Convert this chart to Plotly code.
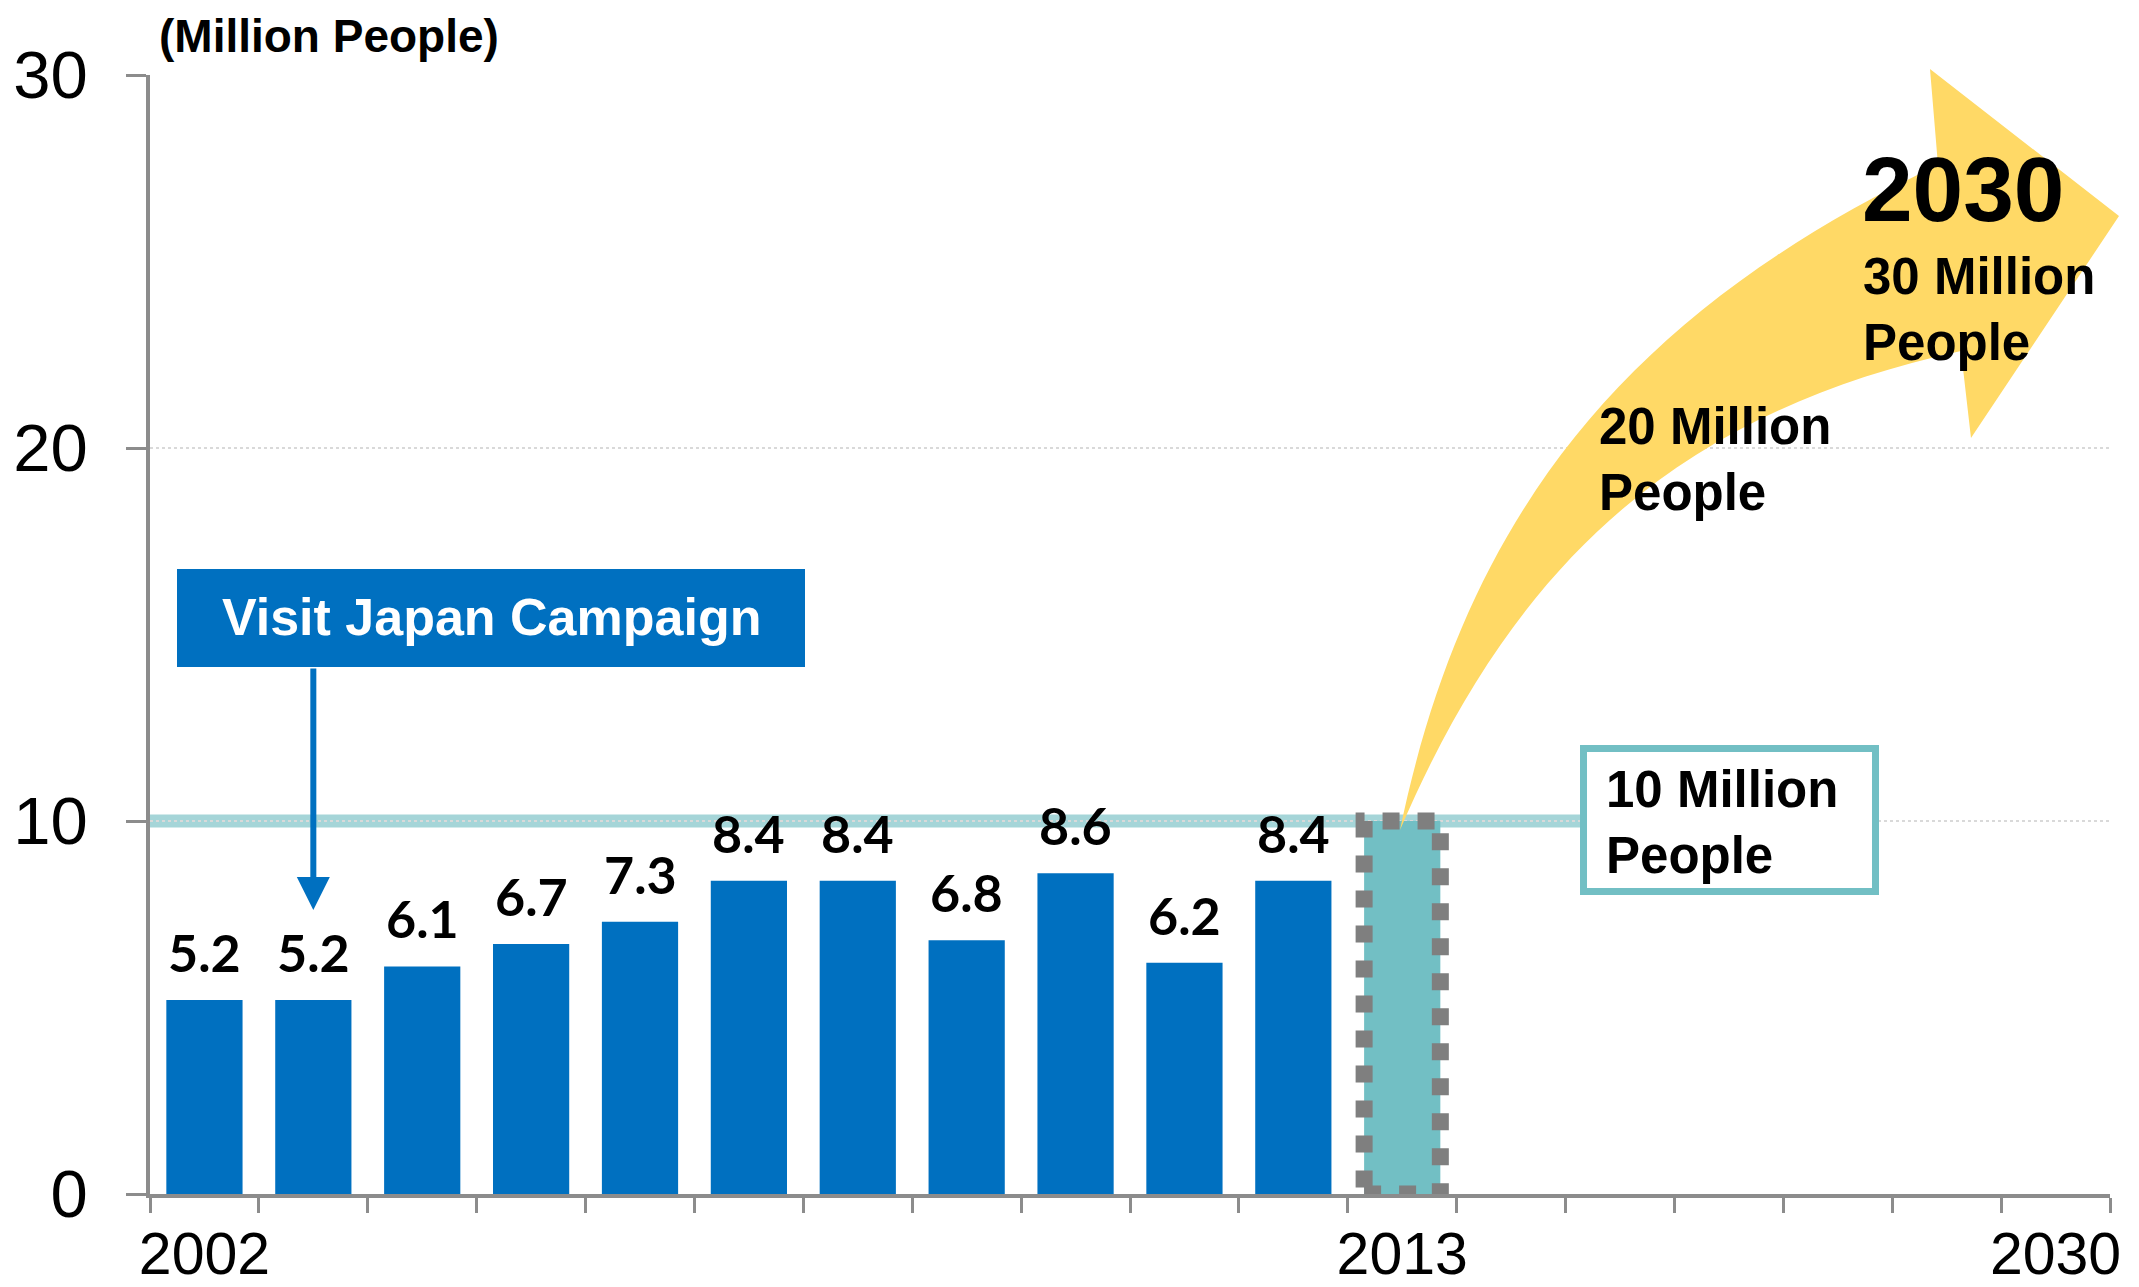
import plotly.graph_objects as go

# ---- data ----
years = ["2002", "2003", "2004", "2005", "2006", "2007", "2008", "2009", "2010", "2011", "2012"]
visitors = [5.2, 5.2, 6.1, 6.7, 7.3, 8.4, 8.4, 6.8, 8.6, 6.2, 8.4]   # million people
target_year = "2013"
target_value = 10
future_slots = ["2014", "2017", "2020", "2023", "2026", "2030"]
x_categories = years + [target_year] + future_slots
shown_years = ["2002", "2013", "2030"]
y_ticks = [0, 10, 20, 30]
campaign_year = "2003"

BLUE = "#0070C0"
TEAL = "#72BFC4"
YELLOW = "#FFD966"
GREY = "#8C8C8C"
ARIAL = "Liberation Sans, Arial, sans-serif"
CALIBRI = "Lato, Calibri, sans-serif"

W, H = 2139, 1287
OFF = 8  # page body margin
# plot area in page pixels (used to place the decorations)
L, R, T, B = 150, 2110, 75, 1194
def px(x):
    return (x - L) / (R - L)
def py(y):
    return (B - y) / (B - T)
def yval(y):
    return (B - y) / (B - T) * 30

fig = go.Figure()
fig.add_trace(go.Bar(x=years, y=visitors, marker=dict(color=BLUE, line=dict(width=0)), width=0.7))
fig.add_trace(go.Bar(x=[target_year], y=[target_value], marker=dict(color=TEAL, line=dict(width=0)), width=0.7))

# value labels
for yr, v in zip(years, visitors):
    fig.add_annotation(x=x_categories.index(yr), y=v, text=f"{v:.1f}", showarrow=False,
                       yanchor="bottom", yshift=15,
                       font=dict(family=CALIBRI, size=52, color="black", weight="bold"))

# curved yellow arrow: two cubic edges + straight head
def P(p):
    return f"{px(p[0]):.5f},{py(p[1]):.5f}"

def cubic(p0, c, p3, k=0.7):
    c1 = (p0[0] + k * (c[0] - p0[0]), p0[1] + k * (c[1] - p0[1]))
    c2 = (p3[0] + k * (c[0] - p3[0]), p3[1] + k * (c[1] - p3[1]))
    return f" C{P(c1)} {P(c2)} {P(p3)}"

tail = (1400, 830)
upper_end, upper_ctrl = (1938, 165), (1494, 377)
head = [(1930, 69), (2119, 216), (1971, 438)]
lower_start, lower_ctrl = (1961, 351), (1568, 437)

path = "M" + P(tail) + cubic(tail, upper_ctrl, upper_end)
for p in head:
    path += " L" + P(p)
path += " L" + P(lower_start) + cubic(lower_start, lower_ctrl, tail) + " Z"
fig.add_shape(type="path", path=path, xref="paper", yref="paper",
              fillcolor=YELLOW, line=dict(width=0), layer="above")

# 10 million line
fig.add_shape(type="line", xref="paper", yref="y", x0=0, x1=px(1580), y0=target_value, y1=target_value,
              line=dict(color="#A5D5D8", width=13), layer="below")

# dotted outline of the 2013 bar
idx = x_categories.index(target_year)
fig.add_shape(type="rect", xref="x", yref="y", x0=idx - 0.35, x1=idx + 0.35, y0=0, y1=target_value,
              line=dict(color="#7F7F7F", width=17, dash="17px,18px"), layer="above")

# 10 Million box
fig.add_shape(type="rect", xref="paper", yref="paper", x0=px(1583.5), x1=px(1875.5),
              y0=py(891.5), y1=py(748.5), line=dict(color=TEAL, width=7), fillcolor="white", layer="above")
fig.add_annotation(xref="paper", yref="paper", x=px(1604), y=py(759), xanchor="left", yanchor="top",
                   text="10 Million<br>People", align="left", showarrow=False,
                   font=dict(family=ARIAL, size=51, color="black", weight="bold"))

# Visit Japan Campaign box + arrow
fig.add_shape(type="rect", xref="paper", yref="paper", x0=px(177), x1=px(805), y0=py(667), y1=py(569),
              line=dict(width=0), fillcolor=BLUE, layer="above")
fig.add_annotation(xref="paper", yref="paper", x=px(491), y=py(617), xanchor="center", yanchor="middle",
                   text="Visit Japan Campaign", showarrow=False,
                   font=dict(family=ARIAL, size=52, color="white", weight="bold"))
fig.add_annotation(x=x_categories.index(campaign_year), y=yval(910), ax=0, ay=667 - 910,
                   text="", showarrow=True,
                   arrowhead=2, arrowsize=1.1, arrowwidth=6, arrowcolor=BLUE)

# goal texts
fig.add_annotation(xref="paper", yref="paper", x=px(1597), y=py(396), xanchor="left", yanchor="top",
                   text="20 Million<br>People", align="left", showarrow=False,
                   font=dict(family=ARIAL, size=51, color="black", weight="bold"))
fig.add_annotation(xref="paper", yref="paper", x=px(1860), y=py(137), xanchor="left", yanchor="top",
                   text="2030", align="left", showarrow=False,
                   font=dict(family=ARIAL, size=91, color="black", weight="bold"))
fig.add_annotation(xref="paper", yref="paper", x=px(1861), y=py(246), xanchor="left", yanchor="top",
                   text="30 Million<br>People", align="left", showarrow=False,
                   font=dict(family=ARIAL, size=51, color="black", weight="bold"))

# unit label
fig.add_annotation(xref="paper", yref="paper", x=px(158), y=py(OFF + 1), xanchor="left", yanchor="top",
                   text="(Million People)", showarrow=False, borderpad=0,
                   font=dict(family=ARIAL, size=46, color="black", weight="bold"))

fig.update_layout(
    width=W - OFF, height=H - OFF,
    margin=dict(l=L - OFF, r=W - R, t=T - OFF, b=H - B),
    paper_bgcolor="white", plot_bgcolor="white",
    showlegend=False, barmode="overlay",
    font=dict(family=ARIAL, color="black"),
    xaxis=dict(type="category", categoryorder="array", categoryarray=x_categories,
               range=[-0.5, len(x_categories) - 0.5],
               tickmode="array", tickvals=x_categories,
               ticktext=[c if c in shown_years else "" for c in x_categories],
               tickangle=0,
               tickson="boundaries", ticks="outside", ticklen=15, tickwidth=2.5, tickcolor=GREY,
               showline=True, linecolor=GREY, linewidth=4, showgrid=False, zeroline=False,
               tickfont=dict(family=ARIAL, size=59, color="black"), ticklabelstandoff=5,
               automargin=False),
    yaxis=dict(range=[0, 30], tickmode="array", tickvals=y_ticks,
               ticks="outside", ticklen=20, tickwidth=3, tickcolor=GREY,
               showline=True, linecolor=GREY, linewidth=3.5,
               showgrid=True, gridcolor="#D9D9D9", griddash="dot", gridwidth=2, zeroline=False,
               tickfont=dict(family=ARIAL, size=67, color="black"), ticklabelstandoff=25,
               automargin=False),
)

fig.write_html("out.html")
